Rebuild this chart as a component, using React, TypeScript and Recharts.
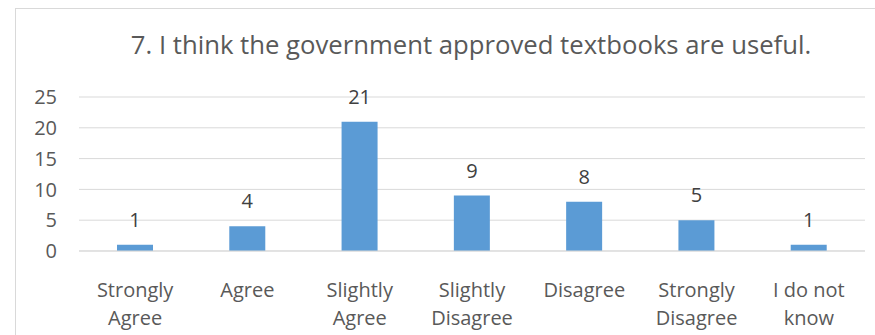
import { BarChart, Bar, XAxis, YAxis, CartesianGrid, LabelList } from "recharts";

const categories = [
  "Strongly\nAgree",
  "Agree",
  "Slightly\nAgree",
  "Slightly\nDisagree",
  "Disagree",
  "Strongly\nDisagree",
  "I do not\nknow",
];
const counts = [1, 4, 21, 9, 8, 5, 1];
const yTicks = [0, 5, 10, 15, 20, 25];
const title = "7. I think the government approved textbooks are useful.";

const data = categories.map((name, i) => ({ name, count: counts[i] }));

const FONT = "'Open Sans', sans-serif";

function CategoryTick(props: any) {
  const { x, y, payload } = props;
  const lines = String(payload.value).split("\n");
  return (
    <text
      x={x}
      y={y}
      textAnchor="middle"
      fill="#595959"
      fontSize={20}
      fontFamily={FONT}
    >
      {lines.map((line, i) => (
        <tspan key={i} x={x} dy={i === 0 ? 38 : 28}>
          {line}
        </tspan>
      ))}
    </text>
  );
}

export default function App() {
  return (
    <div
      style={{
        position: "absolute",
        left: 0,
        top: 0,
        width: 875,
        height: 335,
        overflow: "hidden",
        background: "#fff",
      }}
    >
      <div
        style={{
          position: "absolute",
          left: 15,
          top: 8,
          width: 900,
          height: 400,
          border: "1px solid #d9d9d9",
        }}
      />
      <div
        style={{
          position: "absolute",
          left: 71,
          width: 800,
          top: 27,
          textAlign: "center",
          fontFamily: FONT,
          fontSize: 25.7,
          color: "#595959",
          lineHeight: "36px",
          whiteSpace: "nowrap",
        }}
      >
        {title}
      </div>
      <div style={{ position: "absolute", left: 0, top: 0 }}>
        <BarChart
          width={875}
          height={335}
          data={data}
          margin={{ top: 97, right: 10, bottom: 0, left: 0 }}
        >
          <CartesianGrid vertical={false} stroke="#d9d9d9" />
          <XAxis
            dataKey="name"
            axisLine={{ stroke: "#d9d9d9" }}
            tickLine={false}
            interval={0}
            tick={<CategoryTick />}
            height={84}
          />
          <YAxis
            width={79}
            domain={[0, 25]}
            ticks={yTicks}
            interval={0}
            axisLine={false}
            tickLine={false}
            tickSize={0}
            tickMargin={22}
            tick={{ fill: "#595959", fontSize: 20, fontFamily: FONT }}
          />
          <Bar dataKey="count" fill="#5b9bd5" barSize={36} isAnimationActive={false}>
            <LabelList
              dataKey="count"
              position="top"
              offset={18}
              fill="#404040"
              fontSize={20}
              fontFamily={FONT}
            />
          </Bar>
        </BarChart>
      </div>
    </div>
  );
}
